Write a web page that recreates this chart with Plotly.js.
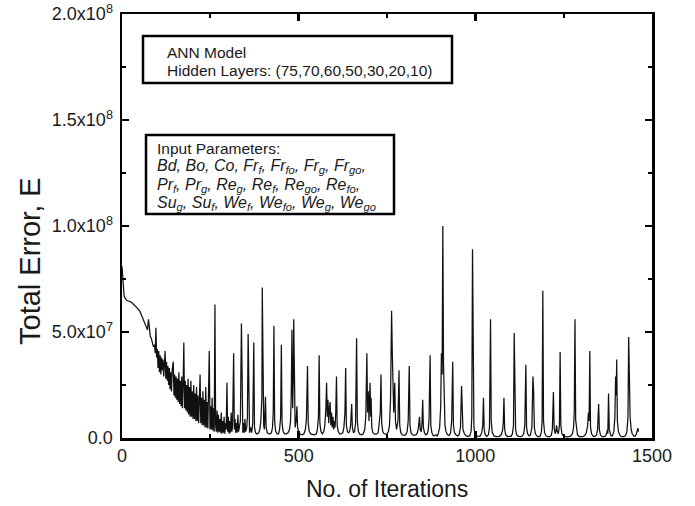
<!DOCTYPE html>
<html>
<head>
<meta charset="utf-8">
<script src="https://cdn.plot.ly/plotly-3.0.1.min.js"></script>
<style>html,body{margin:0;padding:0;background:#fff;}#chart{width:695px;height:506px;}</style>
</head>
<body>
<div id="chart"></div>
<script>
// Iteration numbers (x) and total error in units of 1e6 (y)
const iterations = [
0,2,4,6,9,13,20,27,33,37,42,47,51,55,60,65,69,72,75,77,80,83,86,89,92,94,96,98,100,
102,104,106,108,110,112,114,116,118,120,122,124,126,128,130,132,134,136,138,140,142,145,147,149,151,153,155,157,159,161,163,165,167,169,171,173,175,177,179,181,183,185,187,189,191,193,195,197,199,201,203,205,207,209,211,213,215,217,219,221,223,225,227,229,231,233,235,237,239,241,243,245,247,249,251,253,255,257,259,261,263,265,267,269,271,273,275,277,279,281,283,285,287,289,291,293,295,297,299,
301,303,305,307,309,311,313,316,318,320,322,324,326,328,330,332,335,338,340,342,344,346,348,350,353,355,357,359,361,364,367,370,373,375,378,381,384,387,390,393,396,397,399,401,403,406,408,411,415,419,423,426,428,430,432,435,439,443,446,449,451,453,456,460,465,470,474,477,479,481,483,485,486,488,490,493,495,497,
500,505,510,515,519,522,525,527,530,535,540,545,550,553,556,558,560,563,567,571,574,577,579,581,583,585,587,589,591,593,595,597,599,601,603,605,607,609,612,616,620,625,628,631,633,635,638,641,644,647,650,652,655,658,661,664,666,669,673,678,683,687,690,693,695,697,699,702,704,705,707,710,715,720,725,728,731,733,735,738,742,746,750,754,757,760,763,765,767,769,772,774,777,781,784,786,789,793,798,
803,807,810,813,815,818,822,827,832,836,839,842,844,847,849,851,853,856,860,864,867,869,872,874,877,881,885,889,892,895,899,902,904,906,908,910,912,914,917,921,926,930,933,936,938,941,945,950,954,958,961,963,965,969,974,979,984,988,990,992,994,996,999,
1004,1009,1014,1018,1021,1023,1025,1028,1033,1037,1040,1043,1045,1048,1053,1058,1063,1068,1073,1077,1079,1081,1083,1086,1091,1096,1101,1105,1108,1110,1112,1114,1117,1122,1127,1132,1137,1140,1143,1145,1148,1152,1156,1160,1163,1165,1167,1170,1175,1180,1184,1187,1189,1191,1193,1196,
1200,1205,1210,1215,1218,1221,1223,1226,1228,1230,1232,1235,1238,1240,1242,1245,1250,1255,1260,1265,1270,1275,1278,1280,1282,1284,1286,1289,1294,1299,1304,1309,1314,1318,1320,1322,1324,1326,1329,1334,1339,1343,1346,1349,1351,1354,1359,1364,1369,1372,1374,1375,1377,1379,1381,1384,1388,1392,1395,1397,1399,1400,1402,1405,1410,1415,1420,1425,1429,1432,1434,1436,1438,1441,1444,1449,1453,1456,1458,1460,1462
];
const totalErrorMillions = [
81,76,70,67,66,65,64.5,64,63,62.5,61.5,60.5,59.6,58,56,54,53,51,56,51,48,47,45,43,44,40,52,38,42,
33,41,31,39,30,38,32,37,29,35,41,28,36,27,34,25,33,23,31,22,32,36,20,30,19,29,18,28,17,31,16,27,15,29,14,26,45,14,27,13,25,12,28,11,24,10,27,10,22,9,25,9,21,8,24,8,20,7,23,30,7,19,6,22,6,18,5,24,5,17,4.5,21,41,4,15,4,19,3.5,14,3,63,6,3,13,2.5,11,3,9,2.5,12,2,8,2.5,10,2,7,4,26,3,
10,2,8,2.5,12,3,6,40,4,9,2.5,7,2.5,11,3,5,8,54,5,2.5,7,2.5,9,3,5,10,49,6,2.5,5,2.5,7,45,5,2.5,2,2,2.5,4,8,20,71,12,6,4,19.5,5,2.5,2,2,2.5,5,12,53,8,3,2,2,4,10,44,7,3,2,2,2.5,4,8,20,51,14,30,56,12,5,8,15,5,
2.5,1.8,1.5,2,4,9,34,7,3,1.8,1.5,1.5,2,4,10,39,7,3,2,3,6,14,26,10,18,7,14,17,6,12,5,10,4,8,5,12,29,6,3,2,2,2.5,5,12,33,6,3,2.5,3,6,16,5,2.5,3,7,47,8,3,1.8,1.5,2,4,10,40,12,22,8,26,10,19,5,2.5,1.8,1.8,2.5,6,12,30,7,3,2,1.8,2,3,6,18,60,40,20,12,26,8,4,8,32,6,2.5,1.5,1.2,
1.5,3,8,34,6,2.5,1.5,1.2,1.5,2.5,5,10,4,3,7,18,5,2.5,1.5,2,4,9,39,6,2.5,1.2,1,1.5,1,2,5,15,40,30,100,35,20,6,3,1.5,1.2,2.5,8,36,6,2.5,1.5,1,1.5,5,24.5,12,4,2,1,0.8,1,3,10,89,15,5,2,
1,0.8,1,2.5,6,19,4,1.5,0.8,1.5,5,56,8,2.5,1,0.7,0.6,0.8,1.5,3.5,7,19,4,1.5,0.7,0.6,0.8,2,6,49.5,16,4,1.5,0.7,0.6,0.8,2,6,34.5,5,2,1,1.5,5,29,22,5,2,0.8,0.6,1,3,8,69.5,8,2.5,
1,0.6,0.6,1.2,4,21.7,5,2,3,6,3,2,6,40.6,6,2,0.8,0.5,0.5,0.6,1,2,5,12,56,8.5,4,1.5,0.7,0.5,0.6,1,2.5,6,12,8,41,5,2,0.8,0.8,1.5,4,16,4,1.5,0.6,0.6,1,2.5,4,2,21,4,2,1,1,3,10,29,20,37,8,3,1,0.6,0.6,1,3,10,47.6,26,10,4,2,0.8,1,2,4.7,4.7,3
];

const yTickVals = [0, 5e7, 1e8, 1.5e8, 2e8];
const yTickText = ['0.0', '5.0x10<sup>7</sup>', '1.0x10<sup>8</sup>', '1.5x10<sup>8</sup>', '2.0x10<sup>8</sup>'];
const xTickVals = [0, 500, 1000, 1500];
const xTitle = 'No. of Iterations';
const yTitle = 'Total Error, E';
const modelLines = ['ANN Model', 'Hidden Layers: (75,70,60,50,30,20,10)'];
const inputLines = [
  'Input Parameters:',
  '<i>Bd, Bo, Co, Fr<sub>f</sub>, Fr<sub>fo</sub>, Fr<sub>g</sub>, Fr<sub>go</sub>,</i>',
  '<i>Pr<sub>f</sub>, Pr<sub>g</sub>, Re<sub>g</sub>, Re<sub>f</sub>, Re<sub>go</sub>, Re<sub>fo</sub>,</i>',
  '<i>Su<sub>g</sub>, Su<sub>f</sub>, We<sub>f</sub>, We<sub>fo</sub>, We<sub>g</sub>, We<sub>go</sub></i>'
];

const totalError = totalErrorMillions.map(v => v * 1e6);

const FONT = 'Liberation Sans, Arial, Helvetica, sans-serif';
const INK = '#1a1a1a';

// plot area in pixels: left 122, right 652, top 14, bottom 438
const px2paperX = px => (px - 122) / 530;
const px2paperY = py => (438 - py) / 424;

const trace = {
  x: iterations,
  y: totalError,
  type: 'scatter',
  mode: 'lines',
  line: {color: '#111', width: 1.25},
  hoverinfo: 'skip'
};

const axisCommon = {
  showline: true, linecolor: '#000', linewidth: 2.5, mirror: 'ticks',
  ticks: 'inside', ticklen: 7, tickwidth: 2.5, tickcolor: '#000',
  showgrid: false, zeroline: false,
  tickfont: {family: FONT, size: 18, color: INK}
};

const annotations = [];
const annLine = (text, pxX, pyC, size) => ({
  xref: 'paper', yref: 'paper', x: px2paperX(pxX), y: px2paperY(pyC),
  xanchor: 'left', yanchor: 'middle', align: 'left', showarrow: false,
  font: {family: FONT, size: size, color: INK}, text: text
});
annotations.push(annLine(modelLines[0], 165, 52, 15.5));
annotations.push(annLine(modelLines[1], 165, 70.5, 15.5));
const inputY = [148, 167, 185, 203];
const inputSize = [15.5, 16, 16, 16];
inputLines.forEach((t, i) => annotations.push(annLine(t, 155, inputY[i], inputSize[i])));
annotations.push({
  xref: 'paper', yref: 'paper', x: px2paperX(387), y: px2paperY(489),
  xanchor: 'center', yanchor: 'middle', showarrow: false,
  font: {family: FONT, size: 23, color: INK}, text: xTitle
});
annotations.push({
  xref: 'paper', yref: 'paper', x: px2paperX(30), y: px2paperY(261),
  xanchor: 'center', yanchor: 'middle', showarrow: false, textangle: -90,
  font: {family: FONT, size: 29, color: INK}, text: yTitle
});

const layout = {
  width: 695, height: 506,
  margin: {l: 122, r: 43, t: 14, b: 68},
  paper_bgcolor: '#fff', plot_bgcolor: '#fff',
  showlegend: false,
  font: {family: FONT, color: INK},
  xaxis: Object.assign({}, axisCommon, {
    range: [0, 1500], tickmode: 'array', tickvals: xTickVals,
    minor: {dtick: 250, tick0: 0, ticks: 'inside', ticklen: 4, tickwidth: 2, tickcolor: '#000'}
  }),
  yaxis: Object.assign({}, axisCommon, {
    range: [0, 2e8], tickmode: 'array', tickvals: yTickVals, ticktext: yTickText,
    ticklabelstandoff: 3,
    minor: {dtick: 2.5e7, tick0: 0, ticks: 'inside', ticklen: 4, tickwidth: 2, tickcolor: '#000'}
  }),
  shapes: [
    {type: 'rect', xref: 'paper', yref: 'paper',
     x0: px2paperX(143), x1: px2paperX(452), y0: px2paperY(83), y1: px2paperY(36),
     line: {color: '#000', width: 2.5}, fillcolor: 'rgba(0,0,0,0)'},
    {type: 'rect', xref: 'paper', yref: 'paper',
     x0: px2paperX(146), x1: px2paperX(394), y0: px2paperY(214), y1: px2paperY(135),
     line: {color: '#000', width: 2.5}, fillcolor: 'rgba(0,0,0,0)'}
  ],
  annotations: annotations
};

Plotly.newPlot('chart', [trace], layout, {displayModeBar: false, staticPlot: true});
</script>
</body>
</html>
